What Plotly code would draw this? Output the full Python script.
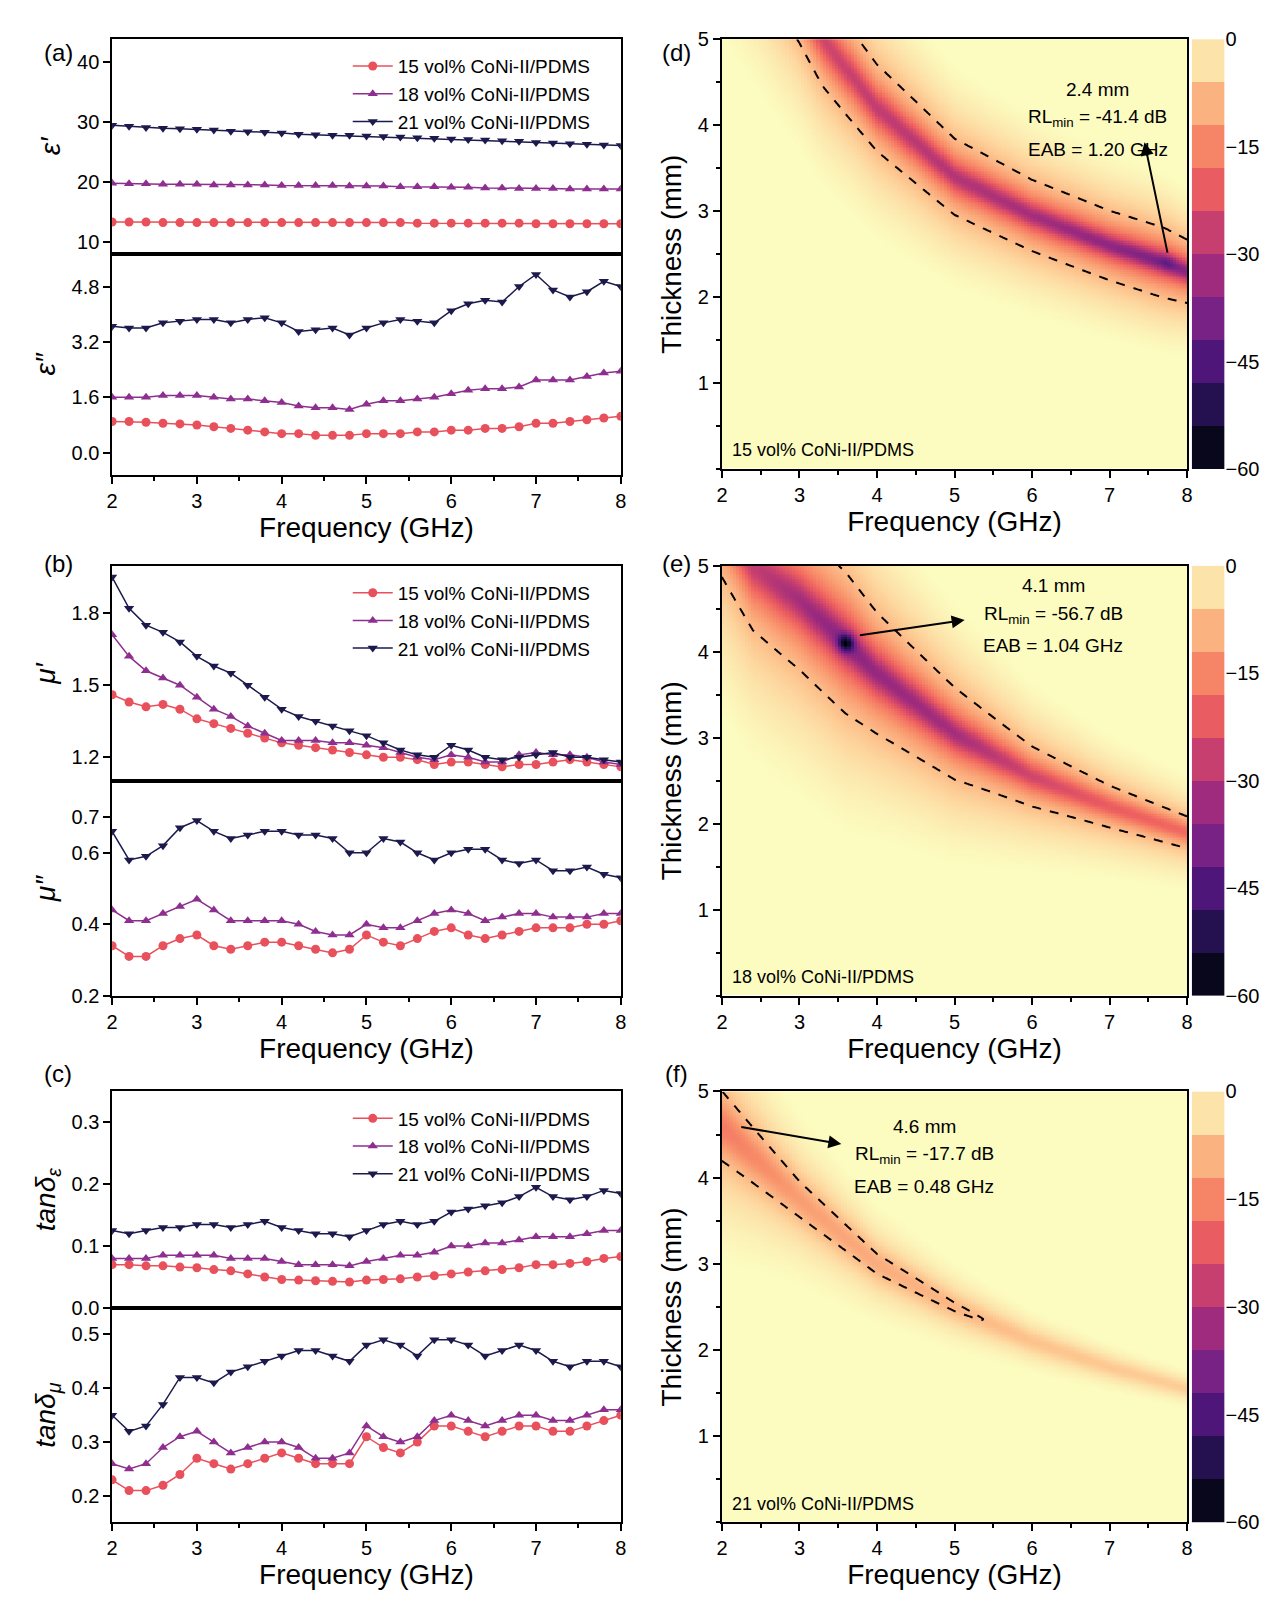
import numpy as np
import plotly.graph_objects as go

freq = [round(2 + 0.2 * i, 1) for i in range(31)]
labels = ["15 vol% CoNi-II/PDMS", "18 vol% CoNi-II/PDMS", "21 vol% CoNi-II/PDMS"]

eps1_15 = [13.3,13.3,13.3,13.2,13.2,13.2,13.2,13.2,13.2,13.2,13.2,13.2,13.2,13.2,13.2,13.2,13.2,13.2,13.1,13.1,13.1,13.1,13.1,13.1,13.1,13.0,13.0,13.0,13.0,13.0,13.0]
eps1_18 = [19.8,19.7,19.7,19.6,19.6,19.6,19.5,19.5,19.5,19.5,19.4,19.4,19.4,19.4,19.3,19.3,19.3,19.2,19.2,19.2,19.1,19.1,19.0,19.0,18.9,18.9,18.9,18.8,18.8,18.8,18.8]
eps1_21 = [29.5,29.3,29.1,29.0,28.9,28.8,28.7,28.5,28.4,28.3,28.2,28.0,27.9,27.8,27.8,27.7,27.6,27.5,27.4,27.3,27.2,27.1,27.0,26.9,26.8,26.6,26.5,26.4,26.3,26.2,26.1]
eps2_15 = [0.9,0.9,0.88,0.85,0.83,0.8,0.75,0.7,0.65,0.6,0.55,0.55,0.5,0.5,0.5,0.55,0.55,0.55,0.6,0.6,0.65,0.65,0.7,0.7,0.75,0.85,0.85,0.9,0.95,1.0,1.05]
eps2_18 = [1.6,1.6,1.6,1.65,1.65,1.65,1.6,1.55,1.55,1.5,1.45,1.35,1.3,1.3,1.25,1.4,1.5,1.5,1.55,1.6,1.7,1.8,1.85,1.85,1.9,2.1,2.1,2.1,2.2,2.3,2.35]
eps2_21 = [3.65,3.6,3.6,3.75,3.8,3.85,3.85,3.75,3.85,3.9,3.75,3.5,3.55,3.6,3.4,3.6,3.75,3.85,3.8,3.75,4.1,4.3,4.4,4.35,4.8,5.15,4.7,4.5,4.65,4.95,4.8]
mu1_15 = [1.46,1.43,1.41,1.42,1.4,1.36,1.34,1.32,1.3,1.28,1.26,1.25,1.24,1.23,1.22,1.21,1.2,1.2,1.19,1.17,1.18,1.18,1.17,1.16,1.17,1.17,1.18,1.19,1.18,1.17,1.16]
mu1_18 = [1.71,1.62,1.56,1.53,1.5,1.45,1.4,1.37,1.33,1.3,1.27,1.27,1.27,1.26,1.26,1.25,1.24,1.22,1.2,1.19,1.21,1.2,1.18,1.18,1.21,1.22,1.21,1.21,1.2,1.18,1.17]
mu1_21 = [1.95,1.82,1.75,1.72,1.68,1.62,1.58,1.55,1.5,1.45,1.4,1.37,1.35,1.33,1.31,1.29,1.26,1.23,1.21,1.2,1.25,1.23,1.2,1.19,1.2,1.21,1.22,1.2,1.2,1.19,1.18]
mu2_15 = [0.34,0.31,0.31,0.34,0.36,0.37,0.34,0.33,0.34,0.35,0.35,0.34,0.33,0.32,0.33,0.37,0.35,0.34,0.36,0.38,0.39,0.37,0.36,0.37,0.38,0.39,0.39,0.39,0.4,0.4,0.41]
mu2_18 = [0.44,0.41,0.41,0.43,0.45,0.47,0.44,0.41,0.41,0.41,0.41,0.40,0.38,0.37,0.37,0.4,0.39,0.39,0.41,0.43,0.44,0.43,0.41,0.42,0.43,0.43,0.42,0.42,0.42,0.43,0.43]
mu2_21 = [0.66,0.58,0.59,0.62,0.67,0.69,0.66,0.64,0.65,0.66,0.66,0.65,0.65,0.64,0.6,0.6,0.64,0.63,0.6,0.58,0.6,0.61,0.61,0.58,0.57,0.58,0.55,0.55,0.56,0.54,0.53]
tde_15 = [0.07,0.07,0.068,0.068,0.066,0.065,0.062,0.06,0.055,0.05,0.046,0.045,0.044,0.043,0.042,0.045,0.046,0.047,0.05,0.052,0.055,0.058,0.06,0.062,0.065,0.07,0.07,0.072,0.075,0.08,0.083]
tde_18 = [0.08,0.08,0.08,0.085,0.085,0.085,0.085,0.08,0.08,0.08,0.075,0.07,0.07,0.07,0.068,0.075,0.08,0.085,0.085,0.09,0.1,0.1,0.105,0.105,0.11,0.115,0.115,0.115,0.12,0.125,0.125]
tde_21 = [0.125,0.12,0.125,0.13,0.13,0.135,0.135,0.13,0.135,0.14,0.13,0.125,0.12,0.12,0.115,0.125,0.135,0.14,0.135,0.14,0.155,0.16,0.165,0.17,0.18,0.195,0.18,0.175,0.18,0.19,0.185]
tdm_15 = [0.23,0.21,0.21,0.22,0.24,0.27,0.26,0.25,0.26,0.27,0.28,0.27,0.26,0.26,0.26,0.31,0.29,0.28,0.30,0.33,0.33,0.32,0.31,0.32,0.33,0.33,0.32,0.32,0.33,0.34,0.35]
tdm_18 = [0.26,0.25,0.26,0.29,0.31,0.32,0.30,0.28,0.29,0.30,0.30,0.29,0.27,0.27,0.28,0.33,0.31,0.30,0.31,0.34,0.35,0.34,0.33,0.34,0.35,0.35,0.34,0.34,0.35,0.36,0.36]
tdm_21 = [0.35,0.32,0.33,0.37,0.42,0.42,0.41,0.43,0.44,0.45,0.46,0.47,0.47,0.46,0.45,0.48,0.49,0.48,0.46,0.49,0.49,0.48,0.46,0.47,0.48,0.47,0.45,0.44,0.45,0.45,0.44]

# RL maps: ridge (matching thickness) and depth read along the ridge, plus the RLmin point
rl_f_d = [2, 3, 3.3, 4, 5, 6, 7, 7.7, 8]
rl_t_d = [7.0, 5.5, 5.0, 4.2, 3.4, 2.95, 2.6, 2.4, 2.3]
rl_v_d = [-20, -24, -26, -28, -30, -32, -35, -38, -36]
rl_min_d = (7.75, 2.4, -41.4)
rl_f_e = [2, 2.4, 3, 3.6, 4, 5, 6, 7, 8]
rl_t_e = [5.6, 5.0, 4.6, 4.1, 3.75, 3.05, 2.55, 2.2, 1.9]
rl_v_e = [-25, -28, -32, -36, -34, -32, -26, -22, -20]
rl_min_e = (3.6, 4.1, -56.7)
rl_f_f = [2, 3, 4, 5, 6, 7, 8]
rl_t_f = [4.6, 3.75, 3.0, 2.5, 2.1, 1.8, 1.55]
rl_v_f = [-17.7, -13.5, -11.8, -10.5, -9.2, -8.5, -8]
rl_min_f = (2.0, 4.6, -17.7)
cbar_vals = [-57, -51, -45, -39, -33, -27, -21, -15, -9, -3]
cbar_colors = ['#000000', '#15103c', '#421273', '#702085', '#9c2a7e', '#c9406e', '#ef615f', '#f8906a', '#fdc48e', '#fcfcc0']

W, H, S = 1270, 1602, 1.021
FONT = "Liberation Sans"
def xd(a, b): return [a * S / W, min(b * S / W, 1)]
def yd(a, b): return [max(1 - b * S / H, 0), 1 - a * S / H]

colors = ['#e8505b', '#8e2f8f', '#1c1a4d']
symbols = ['circle', 'triangle-up', 'triangle-down']
fig = go.Figure()
layout = {}
left_x = xd(97, 600)
panels = [
    ((eps1_15, eps1_18, eps1_21), (eps2_15, eps2_18, eps2_21), (20, 233, 453), [8, 43.9], [10, 20, 30, 40], [-0.65, 5.75], [0, 1.6, 3.2, 4.8], "<i>ε′</i>", "<i>ε″</i>", ['10','20','30','40'], ['0.0','1.6','3.2','4.8']),
    ((mu1_15, mu1_18, mu1_21), (mu2_15, mu2_18, mu2_21), (543, 757, 970), [1.1, 1.997], [1.2, 1.5, 1.8], [0.2, 0.8], [0.2, 0.4, 0.6, 0.7], "<i>μ′</i>", "<i>μ″</i>", ['1.2','1.5','1.8'], ['0.2','0.4','0.6','0.7']),
    ((tde_15, tde_18, tde_21), (tdm_15, tdm_18, tdm_21), (1065, 1280, 1493), [0, 0.35], [0, 0.1, 0.2, 0.3], [0.151, 0.549], [0.2, 0.3, 0.4, 0.5], "<i>tanδ<sub>ε</sub></i>", "<i>tanδ<sub>μ</sub></i>", ['0.0','0.1','0.2','0.3'], ['0.2','0.3','0.4','0.5']),
]
tickfont = dict(family=FONT, size=20, color='black')
titlefont = dict(family=FONT, size=28, color='black')
ax = 1
for pi, (top, bot, (y0, ym, y1), rt, tt, rb, tb, tit_t, tit_b, tlt, tlb) in enumerate(panels):
    leg = 'legend' if pi == 0 else f'legend{pi+1}'
    for k, (data, yr, tv, tl, title, (ya, yb)) in enumerate([(top, rt, tt, tlt, tit_t, (y0, ym)), (bot, rb, tb, tlb, tit_b, (ym, y1))]):
        n = ax; ax += 1
        xs = 'x' if n == 1 else f'x{n}'
        ys = 'y' if n == 1 else f'y{n}'
        for i in range(3):
            fig.add_trace(go.Scatter(x=freq, y=data[i], mode='lines+markers', name=labels[i],
                                     line=dict(color=colors[i], width=1.5),
                                     marker=dict(symbol=symbols[i], size=9, color=colors[i]),
                                     xaxis=xs, yaxis=ys, showlegend=(k == 0), legend=leg))
        layout['xaxis' if n == 1 else f'xaxis{n}'] = dict(
            domain=left_x, anchor=ys, range=[2, 8], tickvals=[2,3,4,5,6,7,8],
            showticklabels=(k == 1), ticks='outside' if k == 1 else '', ticklen=7, tickwidth=2, tickcolor='black',
            minor=dict(ticks='outside' if k == 1 else '', dtick=0.5, tick0=2, ticklen=4, tickwidth=2, tickcolor='black'),
            showline=True, linewidth=1.5, linecolor='black', mirror=True, showgrid=False, zeroline=False,
            tickfont=tickfont,
            title=dict(text='Frequency (GHz)' if k == 1 else '', font=titlefont, standoff=4))
        layout['yaxis' if n == 1 else f'yaxis{n}'] = dict(
            domain=yd(ya, yb), anchor=xs, range=yr, tickvals=tv, ticktext=tl, ticks='outside', ticklen=7, tickwidth=2,
            tickcolor='black',
            showline=True, linewidth=1.5, linecolor='black', mirror=True, showgrid=False, zeroline=False,
            tickfont=tickfont, title=dict(text=title, font=titlefont, standoff=8))
    layout[leg] = dict(x=330 * S / W, y=1 - (y0 + 8) * S / H, xanchor='left', yanchor='top',
                       font=dict(family=FONT, size=19, color='black'), bgcolor='rgba(0,0,0,0)',
                       tracegroupgap=0, itemwidth=40)

# heatmaps
fg = np.arange(2, 8.0001, 0.04)
tg = np.arange(0.02, 5.0001, 0.02)
F, T = np.meshgrid(fg, tg)
n_cb = len(cbar_colors)
cscale = [[0, cbar_colors[0]]] + [[(i + 0.5) / n_cb, c] for i, c in enumerate(cbar_colors)] + [[1, cbar_colors[-1]]]
maps = [
    (rl_f_d, rl_t_d, rl_v_d, rl_min_d, 0.056, (20, 447), "15 vol% CoNi-II/PDMS",
     ["2.4 mm", "RL<sub>min</sub> = -41.4 dB", "EAB = 1.20 GHz"], 6.85, [4.41, 4.08, 3.72], (7.45, 3.8, 7.75, 2.5)),
    (rl_f_e, rl_t_e, rl_v_e, rl_min_e, 0.07, (543, 970), "18 vol% CoNi-II/PDMS",
     ["4.1 mm", "RL<sub>min</sub> = -56.7 dB", "EAB = 1.04 GHz"], 6.27, [4.77, 4.43, 4.07], (5.13, 4.37, 3.76, 4.19)),
    (rl_f_f, rl_t_f, rl_v_f, rl_min_f, 0.075, (1065, 1493), "21 vol% CoNi-II/PDMS",
     ["4.6 mm", "RL<sub>min</sub> = -17.7 dB", "EAB = 0.48 GHz"], 4.61, [4.59, 4.26, 3.9], (3.54, 4.39, 2.23, 4.59)),
]
annotations = []
for j, (mf, mt, mv, mn, wf, (y0, y1), samp, txt, tx, tys, arr) in enumerate(maps):
    n = 7 + j
    xs, ys = f'x{n}', f'y{n}'
    tm = np.interp(F, mf, mt)
    dp = np.interp(F, mf, mv)
    w1 = wf * tm
    d = T - tm
    Z = dp * (0.72 / (1 + (d / w1) ** 2) + 0.28 / (1 + (d / (4.5 * w1)) ** 2))
    zmin_here = float(np.interp(mn[0], mf, mv))
    Z = Z + min(mn[2] - zmin_here, 0) * np.exp(-((F - mn[0]) / 0.1) ** 2 - ((T - mn[1]) / 0.1) ** 2)
    fig.add_trace(go.Heatmap(x=fg, y=tg, z=Z, zmin=-60, zmax=0, colorscale=cscale, showscale=False,
                             xaxis=xs, yaxis=ys, hoverinfo='skip'))
    fig.add_trace(go.Contour(x=fg, y=tg, z=Z, contours=dict(coloring='none', start=-10, end=-10, size=1),
                             line=dict(color='black', width=2, dash='dash'), showscale=False,
                             xaxis=xs, yaxis=ys, hoverinfo='skip', showlegend=False))
    layout[f'xaxis{n}'] = dict(domain=xd(700, 1160), anchor=ys, range=[2, 8], tickvals=[2,3,4,5,6,7,8],
                               ticks='outside', ticklen=7, tickwidth=2, tickcolor='black',
                               minor=dict(ticks='outside', dtick=0.5, tick0=2, ticklen=4, tickwidth=2, tickcolor='black'),
                               showline=True, linewidth=2, linecolor='black', mirror=True, showgrid=False, zeroline=False,
                               tickfont=tickfont, title=dict(text='Frequency (GHz)', font=titlefont, standoff=4))
    layout[f'yaxis{n}'] = dict(domain=yd(y0, y1), anchor=xs, range=[0, 5], tickvals=[1,2,3,4,5],
                               ticks='outside', ticklen=7, tickwidth=2, tickcolor='black',
                               minor=dict(ticks='outside', dtick=0.5, ticklen=4, tickwidth=2, tickcolor='black'),
                               showline=True, linewidth=2, linecolor='black', mirror=True, showgrid=False, zeroline=False,
                               tickfont=tickfont, title=dict(text='Thickness (mm)', font=titlefont, standoff=8))
    for s, yv in zip(txt, tys):
        annotations.append(dict(x=tx, y=yv, xref=xs, yref=ys, text=s, showarrow=False,
                                font=dict(family=FONT, size=19, color='black')))
    annotations.append(dict(x=arr[0], y=arr[1], ax=arr[2], ay=arr[3], xref=xs, yref=ys, axref=xs, ayref=ys,
                            text='', showarrow=True, arrowhead=2, arrowsize=1.3, arrowwidth=2, arrowcolor='black'))
    annotations.append(dict(x=2.1, y=0.08, xref=xs, yref=ys, text=samp, showarrow=False, xanchor='left', yanchor='bottom',
                            font=dict(family=FONT, size=18, color='black')))
    m = 10 + j
    cx, cy = f'x{m}', f'y{m}'
    fig.add_trace(go.Heatmap(x=[0], y=cbar_vals, z=[[v] for v in cbar_vals], zmin=-60, zmax=0,
                             colorscale=[[i / (n_cb - 1), c] for i, c in enumerate(cbar_colors)],
                             showscale=False, xaxis=cx, yaxis=cy, hoverinfo='skip'))
    layout[f'xaxis{m}'] = dict(domain=[1189 / W, 1222 / W], anchor=cy, visible=False, range=[-0.5, 0.5])
    layout[f'yaxis{m}'] = dict(domain=yd(y0, y1), anchor=cx, side='right', range=[-60, 0],
                               tickvals=[0, -15, -30, -45, -60], ticks='', showline=False, showgrid=False,
                               zeroline=False, tickfont=tickfont)

for lab, (px, py) in zip(['(a)', '(b)', '(c)', '(d)', '(e)', '(f)'],
                         [(28, 18), (28, 541), (28, 1063), (655, 18), (655, 541), (655, 1063)]):
    annotations.append(dict(x=px * S / W, y=1 - py * S / H, xref='paper', yref='paper', text=lab, showarrow=False,
                            font=dict(family=FONT, size=24, color='black')))

fig.update_layout(width=W, height=H, margin=dict(l=0, r=0, t=0, b=0), plot_bgcolor='white',
                  paper_bgcolor='white', annotations=annotations, **layout)
fig.write_html("out.html")
